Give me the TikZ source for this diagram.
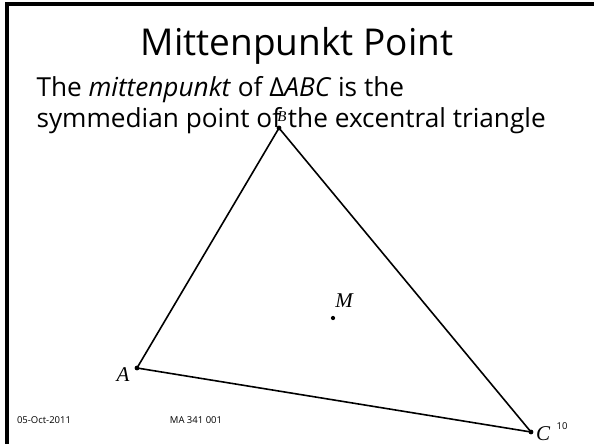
\documentclass[tikz,border=0pt]{standalone}
\usepackage{fontspec}
\setmainfont{Open Sans}
\newfontfamily\mathserif{Liberation Serif}
\begin{document}
\begin{tikzpicture}[x=1pt,y=-1pt,
    vtx/.style={circle, fill, inner sep=1.7pt},
    lbl/.style={font=\mathserif\itshape\fontsize{21}{21}\selectfont, inner sep=0pt}]
    \useasboundingbox (0,0) rectangle (594,444);

    % Slide frame, top and left only
    \draw[line width=3.5pt] (594,4) -- (7,4) -- (7,444);

    % Title and text
    \node[draw=none] (title) at (297,46) {\fontsize{37}{37}\selectfont Mittenpunkt Point};
    \node[draw=none, anchor=base west] (line_1) at (33,96) {\fontsize{26.2}{26.2}\selectfont The \textit{mittenpunkt} of Δ\textit{ABC} is the};
    \node[draw=none, anchor=base west] (line_2) at (33,127) {\fontsize{26.2}{26.2}\selectfont symmedian point of the excentral triangle};

    % Triangle vertices and the mittenpunkt
    \node[vtx] (A) at (137,368) {};
    \node[vtx] (B) at (279,128) {};
    \node[vtx] (C) at (531,432) {};
    \node[vtx, inner sep=1.5pt] (M) at (333,318) {};

    % Labels
    \node[lbl] (lab_A) at (123,375) {A};
    \node[lbl, font=\mathserif\itshape\fontsize{15}{15}\selectfont] (lab_B) at (282,117) {B};
    \node[lbl] (lab_C) at (543,434) {C};
    \node[lbl] (lab_M) at (344,301) {M};

    % Sides
    \draw[line width=1.6pt] (A.center) -- (B.center);
    \draw[line width=1.6pt] (B.center) -- (C.center);
    \draw[line width=1.6pt] (C.center) -- (A.center);

    % Footer
    \node[draw=none] (date) at (44,420) {\fontsize{9.5}{9.5}\selectfont 05-Oct-2011};
    \node[draw=none] (course) at (196,420) {\fontsize{9.5}{9.5}\selectfont MA 341 001};
    \node[draw=none] (page) at (562,426) {\fontsize{9.5}{9.5}\selectfont 10};
\end{tikzpicture}
\end{document}
